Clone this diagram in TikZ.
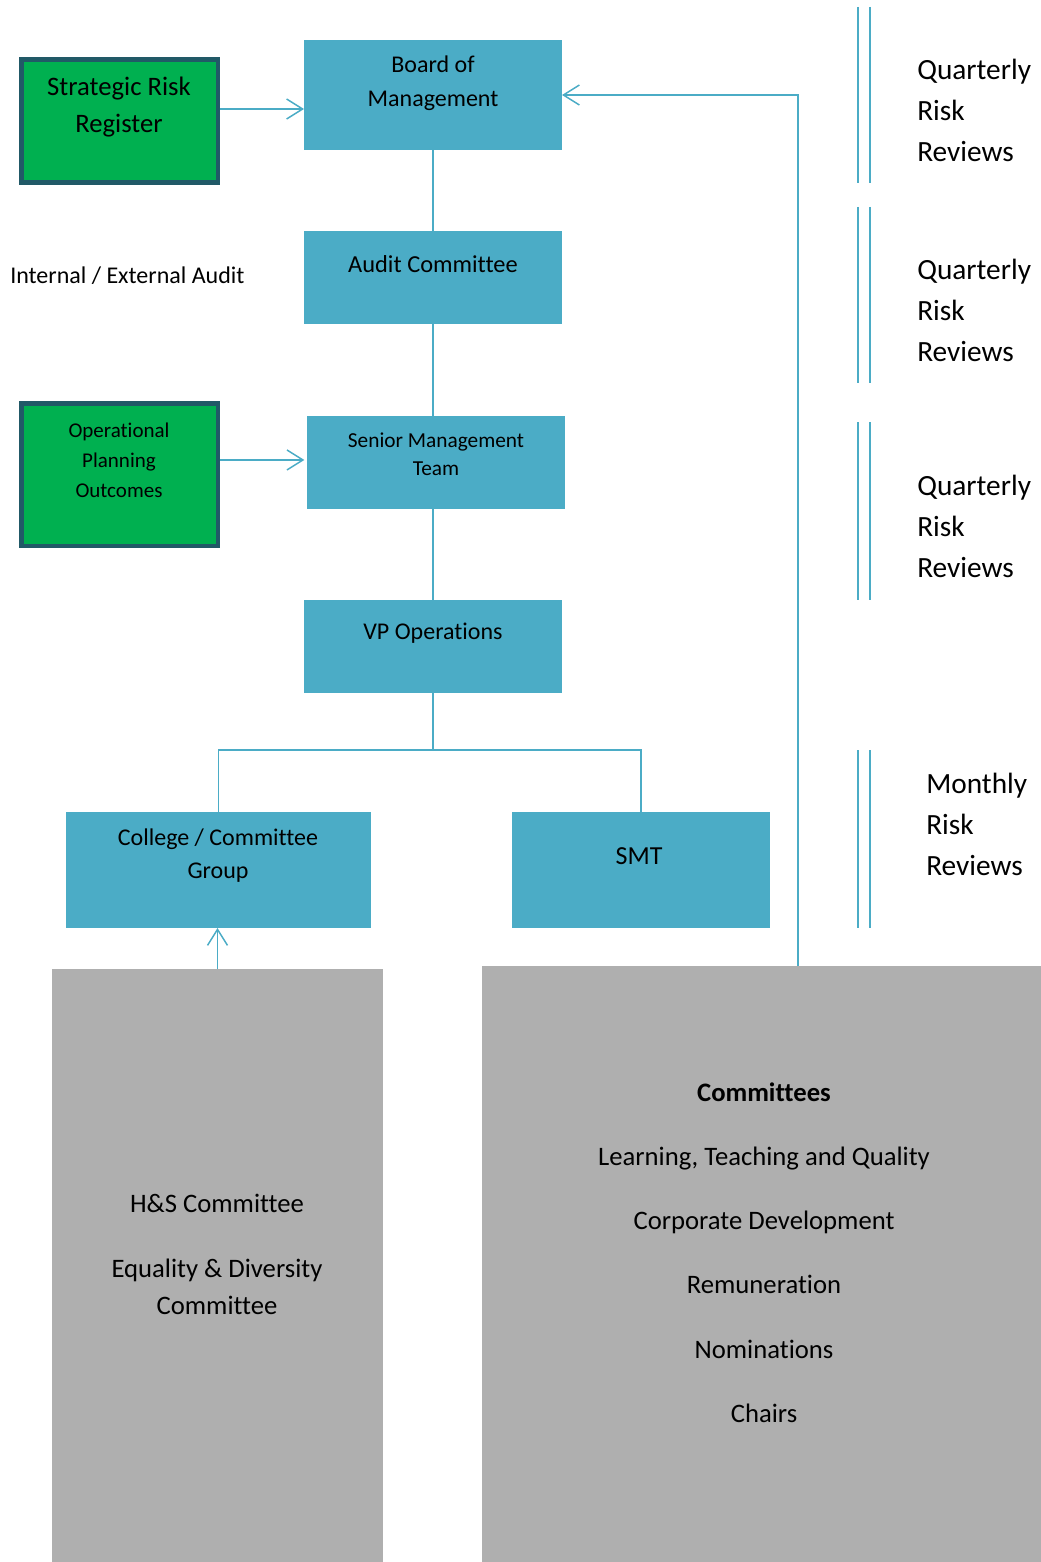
\documentclass[tikz,border=0pt]{standalone}
\usepackage{fontspec}
\setmainfont{Carlito}[Ligatures={NoCommon}]
\usetikzlibrary{arrows.meta}
\definecolor{teal1}{HTML}{4BACC6}
\definecolor{green1}{HTML}{00B050}
\definecolor{dark1}{HTML}{215967}
\definecolor{gray1}{HTML}{AFAFAF}
\tikzset{
  bluebox/.style 2 args={fill=teal1, draw=none, minimum width=#1, minimum height=#2, inner sep=0pt, outer sep=0pt},
  greenbox/.style 2 args={fill=green1, draw=dark1, line width=3.4pt, minimum width=#1, minimum height=#2, inner sep=0pt},
  graybox/.style 2 args={fill=gray1, draw=none, minimum width=#1, minimum height=#2, inner sep=0pt, outer sep=0pt},
  txt/.style 2 args={font=\fontsize{#1}{#2}\selectfont, align=center, inner sep=0pt, text=black},
  conn/.style={draw=teal1, line width=1.1pt},
  arr/.style={draw=teal1, line width=1.1pt, -{Straight Barb[length=12pt, width=15pt, line width=1.1pt]}},
  dbl/.style={draw=teal1, line width=1.8pt}
}
\begin{document}
\begin{tikzpicture}[x=0.75pt,y=-0.75pt]
\useasboundingbox[fill=white] (0,0) rectangle (1041,1562);

% boxes
\node[greenbox={147.4pt}{92.6pt}] (srr) at (119.5,121) {};
\node[greenbox={147.4pt}{106.9pt}] (opo) at (119.5,474.5) {};
\node[bluebox={193.5pt}{82.5pt}] (board) at (433,95) {};
\node[bluebox={193.5pt}{69.75pt}] (audit) at (433,277.5) {};
\node[bluebox={193.5pt}{69.75pt}] (smtteam) at (436,462.5) {};
\node[bluebox={193.5pt}{69.75pt}] (vp) at (433,646.5) {};
\node[bluebox={228.75pt}{87pt}] (college) at (218.5,870) {};
\node[bluebox={193.5pt}{87pt}] (smt) at (641,870) {};
\node[graybox={248.25pt}{444.75pt}] (hsbox) at (217.5,1265.5) {};
\node[graybox={419.25pt}{447pt}] (commbox) at (761.5,1264) {};

% texts in boxes
\node[txt={20pt}{27.75pt}] (srrt) at (119,107.5) {Strategic Risk\\Register};
\node[txt={18pt}{25.5pt}] (boardt) at (433,83) {Board of\\Management};
\node[txt={18.3pt}{22pt}] (auditt) at (433,264) {Audit Committee};
\node[txt={18pt}{22pt}, anchor=west] (internal) at (10,276) {Internal / External Audit};
\node[txt={16pt}{21pt}] (smtteamt) at (436,454) {Senior Management\\Team};
\node[txt={15.75pt}{22.5pt}] (opot) at (119,460) {Operational\\Planning\\Outcomes};
\node[txt={18pt}{22pt}] (vpt) at (433,633) {VP Operations};
\node[txt={18pt}{24.75pt}] (colleget) at (218,855.5) {College / Committee\\Group};
\node[txt={19.5pt}{23pt}] (smtt) at (639,856) {SMT};
\node[txt={20pt}{27.75pt}] (hst) at (217,1254) {H\&S Committee\\[21pt]Equality \& Diversity\\Committee};
\node[txt={20pt}{48.2pt}] (commt) at (764,1252.5) {\textbf{Committees}\\Learning, Teaching and Quality\\Corporate Development\\Remuneration\\Nominations\\Chairs};

% right side labels
\node[txt={22pt}{30.75pt}, align=left, anchor=west] (q1) at (917,110) {Quarterly\\Risk\\Reviews};
\node[txt={22pt}{30.75pt}, align=left, anchor=west] (q2) at (917,310) {Quarterly\\Risk\\Reviews};
\node[txt={22pt}{30.75pt}, align=left, anchor=west] (q3) at (917,526) {Quarterly\\Risk\\Reviews};
\node[txt={22pt}{30.75pt}, align=left, anchor=west] (m1) at (926,824) {Monthly\\Risk\\Reviews};

% double lines
\foreach \ya/\yb in {7/183,207/383,422/600,750/928} {
  \draw[dbl] (858,\ya) -- (858,\yb);
  \draw[dbl] (870,\ya) -- (870,\yb);
}

% connectors
\coordinate (a1) at ([yshift=9pt]srr.east);
\draw[arr] (a1) -- (a1 -| board.west);
\coordinate (a2) at ([yshift=10.9pt]opo.east);
\draw[arr, shorten >=2pt] (a2) -- (a2 -| smtteam.west);
\draw[conn] (board.south) -- (audit.north);
\draw[conn] (audit.south) -- (audit.south |- smtteam.north);
\draw[conn] (vp.north |- smtteam.south) -- (vp.north);
\coordinate (j) at ([yshift=-42.75pt]vp.south);
\draw[conn] (vp.south) -- (j);
\coordinate (cl) at ([yshift=-11.25pt]college.north);
\draw[conn] (cl) |- (j) -| (smt.north);
\coordinate (c1) at ([xshift=27.4pt]commbox.north);
\draw[arr] (c1) |- (board.east);
\draw[arr] (hsbox.north) -- (hsbox.north |- college.south);
\end{tikzpicture}
\end{document}
